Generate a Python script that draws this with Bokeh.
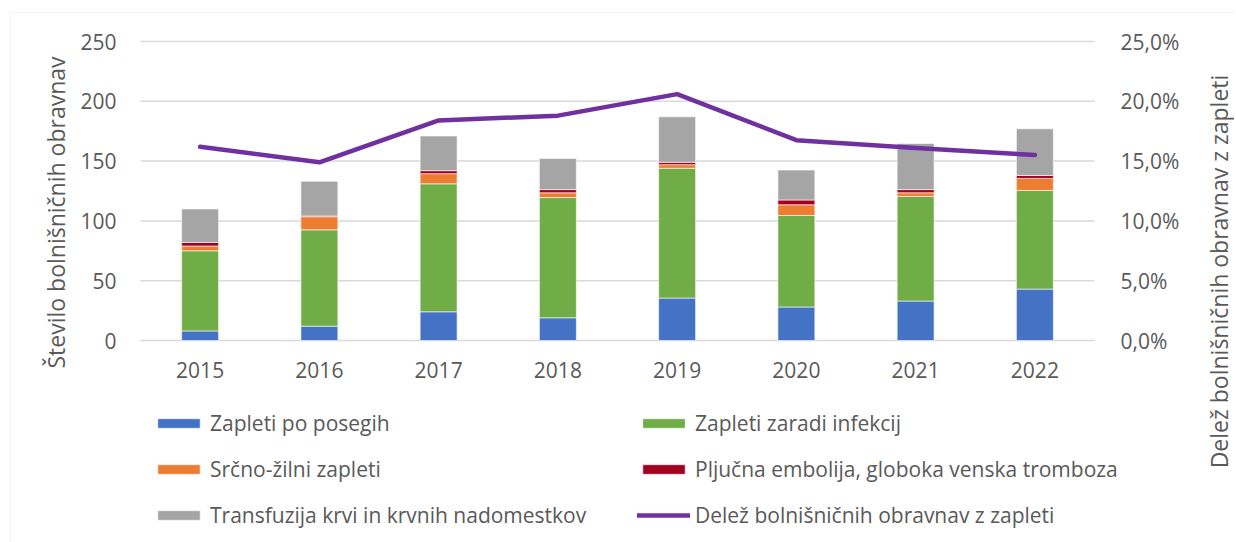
from bokeh.plotting import figure
from bokeh.models import (Range1d, LinearAxis, FactorRange, Legend, LegendItem, Label,
                          BoxAnnotation, CustomJSTickFormatter, FixedTicker, ColumnDataSource)
from bokeh.embed import file_html
from bokeh.resources import INLINE
import math

years = ["2015", "2016", "2017", "2018", "2019", "2020", "2021", "2022"]
posegi = [8, 12, 24, 19, 35.5, 28, 33, 43]
infekcije = [67, 80.5, 107, 100.5, 108.5, 76.5, 87.5, 82.5]
srcno = [4, 11, 8.5, 4, 3, 9, 3, 10]
embolija = [3, 0.6, 2.5, 2.7, 2, 4, 2.7, 2.5]
transfuzija = [28, 29, 29, 26, 38, 25, 38.5, 39]
delez = [16.2, 14.9, 18.4, 18.8, 20.6, 16.75, 16.1, 15.5]

series_names = ["Zapleti po posegih", "Zapleti zaradi infekcij", "Srčno-žilni zapleti",
                "Pljučna embolija, globoka venska tromboza",
                "Transfuzija krvi in krvnih nadomestkov"]
line_name = "Delež bolnišničnih obravnav z zapleti"
left_title = "Število bolnišničnih obravnav"
left_ticks = [0, 50, 100, 150, 200, 250]
right_ticks = [0, 5, 10, 15, 20, 25]
colors = ["#4472C4", "#70AD47", "#ED7D31", "#A50021", "#A5A5A5"]
keys = ["posegi", "infekcije", "srcno", "embolija", "transfuzija"]

FONT = "Open Sans"
TXT = "#595959"

src = ColumnDataSource(dict(years=years, posegi=posegi, infekcije=infekcije, srcno=srcno,
                            embolija=embolija, transfuzija=transfuzija, delez=delez))

# The frame covers the whole canvas; the plotting area proper is the
# category span horizontally and 0..250 vertically, the rest holds
# tick labels, titles and the legend.
N = len(years)
PLOT_W = 954
PX_PER_CAT = PLOT_W / N
PAD = 140 / PX_PER_CAT
PX_PER_UNIT = 299 / 250
Y_TOP = 250 + 41 / PX_PER_UNIT
Y_BOT = -202 / PX_PER_UNIT
P_TOP = Y_TOP / 10
P_BOT = Y_BOT / 10
W = int(round(PLOT_W + 2 * 140))
H = 542

p = figure(x_range=FactorRange(*years, range_padding=PAD, range_padding_units="absolute"),
           y_range=Range1d(Y_BOT, Y_TOP),
           frame_width=W, frame_height=H, output_backend="svg", toolbar_location=None,
           min_border_left=0, min_border_right=0, min_border_top=0, min_border_bottom=0)
p.outline_line_color = None
p.background_fill_color = "white"
p.border_fill_color = "white"

# chart-area border (only its top and left edges fall inside the picture)
border = BoxAnnotation(left=10, top=12, right=W + 200, bottom=H + 200,
                       left_units="canvas", right_units="canvas",
                       top_units="canvas", bottom_units="canvas",
                       fill_alpha=0, line_color="#D9D9D9", line_width=1, level="underlay")
p.add_layout(border)

# horizontal gridlines across the category span
p.xgrid.grid_line_color = None
p.ygrid.grid_line_color = None
p.segment(x0=[0] * len(left_ticks), x1=[N] * len(left_ticks), y0=left_ticks, y1=left_ticks,
          line_color="#D9D9D9", line_width=1.5)

bars = p.vbar_stack(keys, x="years", width=0.31, source=src, color=colors,
                    line_color="white", line_width=1, line_alpha=0.6)

p.extra_y_ranges = {"pct": Range1d(P_BOT, P_TOP)}
line = p.line(x="years", y="delez", source=src, y_range_name="pct",
              line_color="#7030A0", line_width=4.5, line_join="round", line_cap="round")

def style_axis(ax):
    ax.axis_line_color = None
    ax.major_tick_line_color = None
    ax.minor_tick_line_color = None
    ax.major_label_text_font = FONT
    ax.major_label_text_font_size = "21px"
    ax.major_label_text_color = TXT

xa = p.xaxis[0]
style_axis(xa)
xa.fixed_location = 0
xa.major_label_standoff = 15

ly = p.yaxis[0]
style_axis(ly)
ly.ticker = FixedTicker(ticks=left_ticks)
ly.fixed_location = 0
ly.major_label_standoff = 18

ry = LinearAxis(y_range_name="pct", ticker=FixedTicker(ticks=right_ticks))
style_axis(ry)
ry.formatter = CustomJSTickFormatter(code="return tick.toFixed(1).replace('.', ',') + '%';")
ry.fixed_location = N
ry.major_label_standoff = 20
p.add_layout(ry, "right")

# axis titles
def title_label(x, y, text):
    return Label(x=x, y=y, x_units="canvas", y_units="canvas", text=text, angle=math.pi / 2,
                 text_align="center", text_baseline="middle", text_font=FONT,
                 text_font_size="23px", text_color=TXT)

p.add_layout(title_label(55, 212, left_title))
p.add_layout(title_label(1218, 271, line_name))

# legend, filled column by column
order = [0, 2, 4, 1, 3]
items = [LegendItem(label=series_names[i], renderers=[bars[i]]) for i in order]
items.append(LegendItem(label=line_name, renderers=[line]))
legend = Legend(items=items, ncols=2, location=(152, 13),
                glyph_width=53, glyph_height=12, label_standoff=5,
                label_width=409, label_height=20, spacing=18, padding=0, margin=0,
                label_text_font=FONT, label_text_font_size="21px", label_text_color=TXT,
                border_line_color=None, background_fill_alpha=0)
p.add_layout(legend, "center")

open("out.html", "w").write(file_html(p, INLINE))
